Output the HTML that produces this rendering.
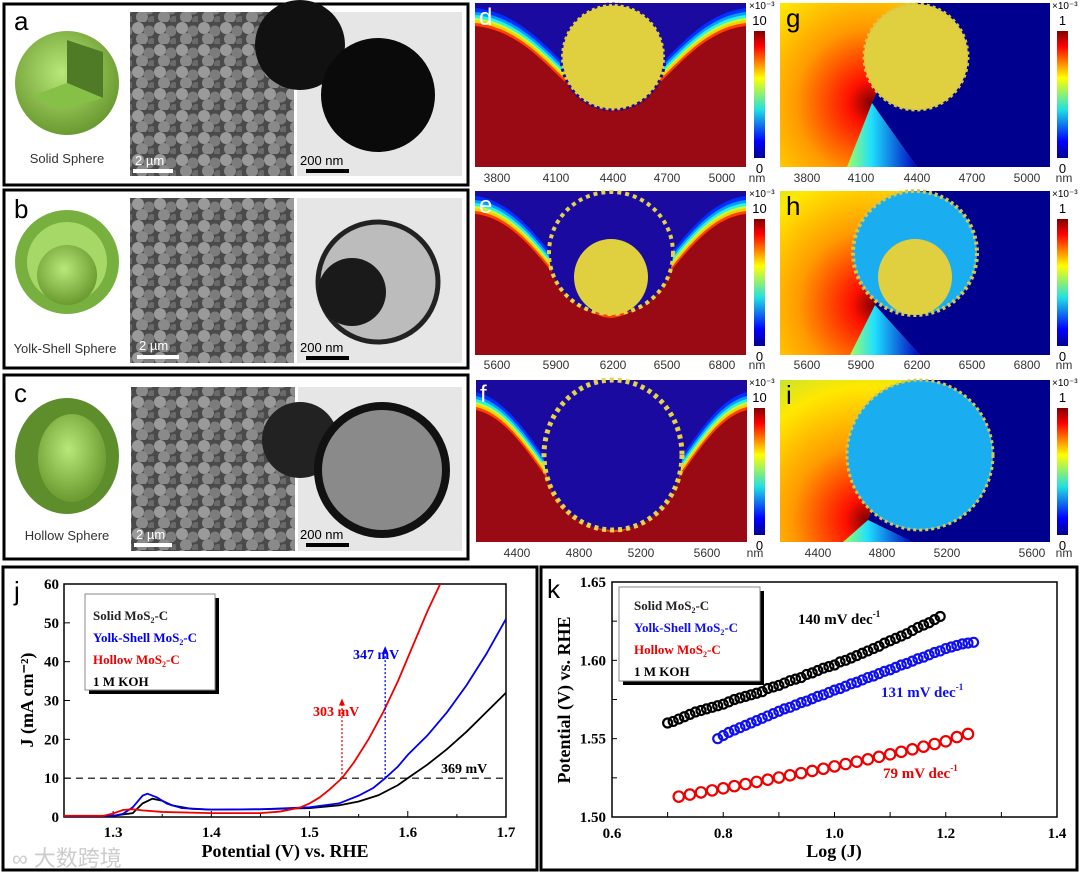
<!DOCTYPE html>
<html><head><meta charset="utf-8">
<style>
html,body{margin:0;padding:0;background:#fff;}
svg text{font-family:"Liberation Sans","Noto Sans CJK SC",sans-serif;}
.ser{font-family:"Liberation Serif","Noto Serif CJK SC",serif;font-weight:bold;}
</style></head>
<body>
<svg id="fig" width="1080" height="874" viewBox="0 0 1080 874" xmlns="http://www.w3.org/2000/svg">
<defs>
<linearGradient id="jet" x1="0" y1="0" x2="0" y2="1">
<stop offset="0" stop-color="#800000"/><stop offset="0.12" stop-color="#ff0000"/><stop offset="0.37" stop-color="#ffff00"/><stop offset="0.62" stop-color="#20e0e0"/><stop offset="0.87" stop-color="#0000ff"/><stop offset="1" stop-color="#00008f"/>
</linearGradient>
<radialGradient id="sph" cx="0.45" cy="0.4" r="0.6"><stop offset="0" stop-color="#b8e878"/><stop offset="1" stop-color="#6a9a30"/></radialGradient>
<pattern id="sem" width="22" height="22" patternUnits="userSpaceOnUse">
<rect width="22" height="22" fill="#4a4a4a"/>
<circle cx="6" cy="6" r="6" fill="#9a9a9a"/><circle cx="17" cy="9" r="5.5" fill="#7c7c7c"/><circle cx="10" cy="17" r="6" fill="#8a8a8a"/><circle cx="20" cy="20" r="4" fill="#6a6a6a"/>
</pattern>
</defs>

<g>
<rect x="4" y="4" width="464" height="181" fill="#fff" stroke="#000" stroke-width="3"/>
<text x="14" y="30" font-size="26">a</text>
<circle cx="67" cy="83" r="52" fill="url(#sph)"/>
<path d="M67,83 L67,40 L103,52 L103,98 Z" fill="#4f7a26"/><path d="M67,83 L103,98 L60,110 L32,96 Z" fill="#86c046"/>
<text x="67" y="163" font-size="13" fill="#333" text-anchor="middle">Solid Sphere</text>
<rect x="130" y="12" width="164" height="164" fill="url(#sem)"/>
<rect x="133" y="169" width="40" height="4" fill="#fff"/><text x="135" y="165" font-size="13" fill="#fff">2 µm</text>
<rect x="297" y="12" width="165" height="164" fill="#e6e6e6"/>
<circle cx="300" cy="45" r="45" fill="#111"/><circle cx="378" cy="95" r="57" fill="#0a0a0a"/>
<rect x="306" y="169" width="43" height="4" fill="#000"/><text x="300" y="165" font-size="13" fill="#000">200 nm</text>
</g>
<g>
<rect x="4" y="190" width="464" height="178" fill="#fff" stroke="#000" stroke-width="3"/>
<text x="14" y="218" font-size="26">b</text>
<circle cx="67" cy="262" r="52" fill="#78b040"/><circle cx="67" cy="262" r="40" fill="#a6d868"/><circle cx="67" cy="275" r="30" fill="url(#sph)"/>
<text x="65" y="353" font-size="13" fill="#333" text-anchor="middle">Yolk-Shell Sphere</text>
<rect x="130" y="198" width="164" height="165" fill="url(#sem)"/>
<rect x="137" y="355" width="42" height="4" fill="#fff"/><text x="139" y="350" font-size="13" fill="#fff">2 µm</text>
<rect x="297" y="198" width="165" height="165" fill="#e6e6e6"/>
<circle cx="378" cy="282" r="60" fill="#bcbcbc" stroke="#222" stroke-width="5"/><circle cx="352" cy="292" r="34" fill="#1a1a1a"/>
<rect x="306" y="356" width="43" height="4" fill="#000"/><text x="300" y="352" font-size="13" fill="#000">200 nm</text>
</g>
<g>
<rect x="4" y="375" width="464" height="184" fill="#fff" stroke="#000" stroke-width="3"/>
<text x="14" y="402" font-size="26">c</text>
<ellipse cx="67" cy="456" rx="52" ry="58" fill="#5e8e2c"/><ellipse cx="72" cy="458" rx="34" ry="44" fill="url(#sph)"/>
<text x="67" y="540" font-size="13" fill="#333" text-anchor="middle">Hollow Sphere</text>
<rect x="131" y="387" width="164" height="164" fill="url(#sem)"/>
<rect x="134" y="543" width="38" height="4" fill="#fff"/><text x="136" y="539" font-size="13" fill="#fff">2 µm</text>
<rect x="298" y="387" width="164" height="164" fill="#e6e6e6"/>
<circle cx="300" cy="440" r="38" fill="#222"/><circle cx="382" cy="470" r="64" fill="#8a8a8a" stroke="#111" stroke-width="8"/>
<rect x="306" y="543" width="43" height="4" fill="#000"/><text x="300" y="539" font-size="13" fill="#000">200 nm</text>
</g>

<g id="heat"></g>

<g id="chartJ">
<rect x="3" y="567" width="534" height="303" fill="#fff" stroke="#000" stroke-width="3"/>
</g>
<g id="chartK">
<rect x="541" y="567" width="536" height="303" fill="#fff" stroke="#000" stroke-width="3"/>
</g>
<text x="12" y="866" font-size="22" fill="#ccc">∞ 大数跨境</text>
</svg>

<script>
// ---------- LSV data (panel j) ----------
const lsvV_hollow = [1.25,1.29,1.30,1.31,1.32,1.33,1.35,1.40,1.45,1.47,1.49,1.50,1.51,1.52,1.533,1.545,1.56,1.575,1.59,1.60,1.61,1.62,1.633];
const lsvJ_hollow = [0.3,0.3,0.9,1.8,2.0,1.7,1.3,1.0,1.0,1.4,2.4,3.5,5.0,7.0,10,14,20,27,35,41,47,53,60];
const lsvV_yolk = [1.25,1.30,1.31,1.32,1.33,1.335,1.345,1.355,1.37,1.40,1.45,1.50,1.53,1.55,1.565,1.577,1.59,1.60,1.62,1.64,1.66,1.68,1.70];
const lsvJ_yolk = [0.2,0.3,0.8,2.5,5.5,6.0,5.0,3.4,2.3,1.9,2.0,2.5,3.5,5.5,7.5,10,13,16,21,27,34,42,51];
const lsvV_solid = [1.25,1.30,1.32,1.33,1.34,1.35,1.36,1.38,1.40,1.45,1.50,1.53,1.55,1.57,1.59,1.60,1.62,1.64,1.66,1.68,1.70];
const lsvJ_solid = [0.2,0.3,1.0,3.5,4.7,4.2,3.0,2.1,1.9,2.0,2.3,3.0,4.0,5.6,8.2,10,13.5,17.5,22,27,32];
const lsvXTicks = [1.3,1.4,1.5,1.6,1.7];
const lsvYTicks = [0,10,20,30,40,50,60];

// ---------- Tafel data (panel k) ----------
const tafelX_solid = [0.70,0.71,0.72,0.73,0.74,0.75,0.76,0.77,0.78,0.79,0.80,0.81,0.82,0.83,0.84,0.85,0.86,0.87,0.88,0.89,0.90,0.91,0.92,0.93,0.94,0.95,0.96,0.97,0.98,0.99,1.00,1.01,1.02,1.03,1.04,1.05,1.06,1.07,1.08,1.09,1.10,1.11,1.12,1.13,1.14,1.15,1.16,1.17,1.18,1.19];
const tafelY_solid = [1.560,1.561,1.5625,1.564,1.5655,1.567,1.568,1.569,1.570,1.571,1.572,1.5735,1.575,1.576,1.577,1.578,1.579,1.580,1.582,1.583,1.584,1.5855,1.587,1.588,1.589,1.591,1.592,1.5935,1.595,1.596,1.597,1.599,1.600,1.6015,1.603,1.6045,1.606,1.6075,1.609,1.611,1.6125,1.614,1.6155,1.617,1.619,1.621,1.6225,1.624,1.626,1.628];
const tafelX_yolk = [0.79,0.80,0.81,0.82,0.83,0.84,0.85,0.86,0.87,0.88,0.89,0.90,0.91,0.92,0.93,0.94,0.95,0.96,0.97,0.98,0.99,1.00,1.01,1.02,1.03,1.04,1.05,1.06,1.07,1.08,1.09,1.10,1.11,1.12,1.13,1.14,1.15,1.16,1.17,1.18,1.19,1.20,1.21,1.22,1.23,1.24,1.25];
const tafelY_yolk = [1.550,1.552,1.554,1.5555,1.557,1.5585,1.560,1.5615,1.563,1.5645,1.566,1.5675,1.569,1.570,1.5715,1.573,1.574,1.5755,1.577,1.578,1.5795,1.581,1.582,1.5835,1.585,1.586,1.5875,1.589,1.590,1.5915,1.593,1.594,1.5955,1.597,1.598,1.5995,1.601,1.602,1.6035,1.605,1.606,1.6075,1.6085,1.6095,1.6105,1.611,1.6115];
const tafelX_hollow = [0.72,0.74,0.76,0.78,0.80,0.82,0.84,0.86,0.88,0.90,0.92,0.94,0.96,0.98,1.00,1.02,1.04,1.06,1.08,1.10,1.12,1.14,1.16,1.18,1.20,1.22,1.24];
const tafelY_hollow = [1.513,1.5143,1.5157,1.517,1.5183,1.5197,1.521,1.5224,1.5238,1.5252,1.5266,1.528,1.5294,1.5308,1.5323,1.5338,1.5353,1.5368,1.5384,1.540,1.5416,1.5432,1.5449,1.5466,1.5483,1.551,1.553];
const tafelXTicks = [0.6,0.8,1.0,1.2,1.4];
const tafelYTicks = [1.50,1.55,1.60,1.65];

const NS = "http://www.w3.org/2000/svg";
function mk(tag, attrs, parent){const e=document.createElementNS(NS,tag);for(const k in attrs)e.setAttribute(k,attrs[k]);parent.appendChild(e);return e;}
function txt(s, attrs, parent){const e=mk('text',attrs,parent);e.textContent=s;return e;}

// ---------- heat panels ----------
const heat = document.getElementById('heat');
function colorbar(x,y,top){
  const g = mk('g',{},heat);
  
  
  mk('rect',{x:x,y:y+28,width:11,height:127,fill:'url(#jet)'},g);
  txt('×10⁻³',{x:x-5,y:y+6,'font-size':10},g);
  txt(top,{x:x+5.5,y:y+22,'font-size':13,'text-anchor':'middle'},g);
  txt('0',{x:x+5.5,y:y+170,'font-size':13,'text-anchor':'middle'},g);
}
function ticks(xs, labels, y, nmX){
  const g = mk('g',{},heat);
  
  
  xs.forEach((x,i)=>txt(labels[i],{x:x,y:y,'font-size':12,'text-anchor':'middle',fill:'#333'},g));
  txt('nm',{x:nmX,y:y,'font-size':12,'text-anchor':'middle',fill:'#333'},g);
}
function flowPanel(name,x,y,w,h,curve,letter,cx,cy,rx,ry,core,hollow){
  const g = mk('g',{},heat);
  
  
  mk('rect',{x:x,y:y,width:w,height:h,fill:'#1a0aa0'},g);
  const layers=[[-18,'#0030ff'],[-14,'#00a0ff'],[-11,'#30f0e0'],[-8,'#c0ff40'],[-6,'#ffd000'],[-3,'#ff4000'],[0,'#9a0a14']];
  layers.forEach(l=>mk('path',{d:curve+` L${x+w},${y+h} L${x},${y+h} Z`,fill:l[1],transform:`translate(0,${l[0]})`},g));
  if(core||hollow){
    mk('ellipse',{cx:cx,cy:cy,rx:rx,ry:ry,fill:'#1a0aa0'},g);
    mk('ellipse',{cx:cx,cy:cy,rx:rx,ry:ry,fill:'none',stroke:'#e4d24a','stroke-width':hollow?5:4,'stroke-dasharray':'4 4'},g);
    if(core) mk('ellipse',{cx:core[0],cy:core[1],rx:core[2],ry:core[3],fill:'#e0d040'},g);
  } else {
    mk('ellipse',{cx:cx,cy:cy,rx:rx,ry:ry,fill:'#e0d040',stroke:'#1a0aa0','stroke-width':3,'stroke-dasharray':'3 3'},g);
  }
  txt(letter,{x:x+4,y:y+22,'font-size':24,fill:'#fff'},g);
}
function potPanel(name,x,y,w,h,px,py,letter,cx,cy,rx,ry,shellFill,core){
  const g = mk('g',{},heat);
  
  
  const id='rg'+letter;
  const d=mk('defs',{},g);
  const rg=mk('radialGradient',{id:id,gradientUnits:'userSpaceOnUse',cx:px,cy:py,r:190},d);
  [[0,'#7a0000'],[0.12,'#ff1000'],[0.4,'#ff9a00'],[0.7,'#ffe800'],[1,'#a0e050']].forEach(s=>mk('stop',{offset:s[0],'stop-color':s[1]},rg));
  const lg=mk('linearGradient',{id:id+'b',x1:0,y1:0,x2:1,y2:0},d);
  [[0,'#a0ff60'],[0.35,'#20e0ff'],[1,'#0000c0']].forEach(s=>mk('stop',{offset:s[0],'stop-color':s[1]},lg));
  mk('rect',{x:x,y:y,width:w,height:h,fill:`url(#${id})`},g);
  mk('polygon',{points:`${cx},${y} ${x+w},${y} ${x+w},${y+h} ${px+45},${y+h} ${px},${py}`,fill:'#00008f'},g);
  mk('polygon',{points:`${px},${py} ${px+45},${y+h} ${px-25},${y+h}`,fill:`url(#${id}b)`},g);
  mk('ellipse',{cx:cx,cy:cy,rx:rx,ry:ry,fill:shellFill,stroke:'#d8c848','stroke-width':core?4:3,'stroke-dasharray':'3 3'},g);
  if(core) mk('ellipse',{cx:core[0],cy:core[1],rx:core[2],ry:core[3],fill:'#e0d040'},g);
  txt(letter,{x:x+6,y:y+24,'font-size':26,fill:'#000'},g);
}
flowPanel('flow-panel-d',475,3,271,164,'M475,26 C540,32 570,108 613,111 C656,108 686,32 746,26','d',613,57,52,53,null,false);
flowPanel('flow-panel-e',475,191,271,164,'M475,214 C535,220 565,316 611,318 C657,316 687,220 746,214','e',611,253,62,61,[611,277,37,38],false);
flowPanel('flow-panel-f',476,380,271,162,'M476,410 C530,422 560,532 613,532 C666,532 696,422 747,410','f',613,455,69,75,null,true);
potPanel('potential-panel-g',780,3,270,164,872,103,'g',916,57,52,53,'#e0d040',null);
potPanel('potential-panel-h',780,191,270,164,875,305,'h',915,253,62,62,'#1aaef0',[915,277,37,38]);
potPanel('potential-panel-i',780,380,270,162,868,520,'i',920,455,73,75,'#1aaef0',null);
colorbar(754,3,'10');colorbar(754,191,'10');colorbar(754,380,'10');
colorbar(1057,3,'1');colorbar(1057,191,'1');colorbar(1057,380,'1');
ticks([497,556,613,667,722],['3800','4100','4400','4700','5000'],182,757);
ticks([807,861,917,972,1027],['3800','4100','4400','4700','5000'],182,1064);
ticks([497,556,613,667,722],['5600','5900','6200','6500','6800'],369,757);
ticks([807,861,917,972,1027],['5600','5900','6200','6500','6800'],369,1064);
ticks([517,579,641,707],['4400','4800','5200','5600'],557,755);
ticks([818,882,947,1032],['4400','4800','5200','5600'],557,1064);

// ---------- chart j ----------
(function(){
  const g=document.getElementById('chartJ');
  const X0=64,X1=506,Y0=817,Y1=584;
  const xs=v=>X0+(v-1.25)/(1.70-1.25)*(X1-X0);
  const ys=v=>Y0-(v-0)/(60-0)*(Y0-Y1);
  mk('rect',{x:X0,y:Y1,width:X1-X0,height:Y0-Y1,fill:'none',stroke:'#000','stroke-width':1.5},g);
  for(let v=1.25;v<=1.7001;v+=0.05){const x=xs(v);mk('line',{x1:x,y1:Y0,x2:x,y2:Y0-(Math.abs(v*10-Math.round(v*10))<0.01?6:3),stroke:'#000'},g);}
  lsvXTicks.forEach(v=>txt(v.toFixed(1),{x:xs(v),y:Y0+20,'font-size':15,'text-anchor':'middle',class:'ser'},g));
  lsvYTicks.forEach(v=>{mk('line',{x1:X0,y1:ys(v),x2:X0+6,y2:ys(v),stroke:'#000'},g);txt(String(v),{x:X0-5,y:ys(v)+5,'font-size':15,'text-anchor':'end',class:'ser'},g);});
  const dl=mk('line',{x1:X0,y1:ys(10),x2:X1,y2:ys(10),stroke:'#000','stroke-dasharray':'7 5','stroke-width':1.2},g);
  
  
  const cp=mk('clipPath',{id:'clipJ'},g);mk('rect',{x:X0,y:Y1,width:X1-X0,height:Y0-Y1},cp);
  [[lsvV_solid,lsvJ_solid,'#000','series-solid'],[lsvV_yolk,lsvJ_yolk,'#0000ee','series-yolk-shell'],[lsvV_hollow,lsvJ_hollow,'#ee0000','series-hollow']].forEach(s=>{
    const p=mk('polyline',{points:s[0].map((v,i)=>xs(v)+','+ys(s[1][i])).join(' '),fill:'none',stroke:s[2],'stroke-width':1.8,'clip-path':'url(#clipJ)'},g);
    
    
  });
  const ar=[[1.533,30.5,'#ee0000'],[1.577,44,'#0000ee']];
  ar.forEach(a=>{const x=xs(a[0]);mk('line',{x1:x,y1:ys(10),x2:x,y2:ys(a[1])+6,stroke:a[2],'stroke-dasharray':'2 2','stroke-width':1.3},g);mk('polygon',{points:`${x-3},${ys(a[1])+7} ${x+3},${ys(a[1])+7} ${x},${ys(a[1])}`,fill:a[2]},g);});
  txt('303 mV',{x:313,y:716,'font-size':14,fill:'#ee0000',class:'ser'},g);
  txt('347 mV',{x:353,y:659,'font-size':14,fill:'#0000ee',class:'ser'},g);
  txt('369 mV',{x:441,y:773,'font-size':14,fill:'#000',class:'ser'},g);
  const lg=mk('g',{},g);
  
  
  mk('rect',{x:89,y:598,width:130,height:96,fill:'#000'},lg);
  mk('rect',{x:85,y:594,width:130,height:96,fill:'#fff',stroke:'#888'},lg);
  const ent=[['Solid MoS','-C','#222'],['Yolk-Shell MoS','-C','#0000ee'],['Hollow MoS','-C','#ee0000']];
  ent.forEach((e,i)=>{const t=txt(e[0],{x:93,y:620+i*22,'font-size':13,fill:e[2],class:'ser'},lg);const s=mk('tspan',{'font-size':8,dy:3},t);s.textContent='2';const r=mk('tspan',{dy:-3},t);r.textContent=e[1];});
  txt('1 M KOH',{x:93,y:686,'font-size':13,class:'ser'},lg);
  txt('j',{x:14,y:600,'font-size':26},g);
  const xt=txt('Potential (V) vs. RHE',{x:285,y:857,'font-size':18,'text-anchor':'middle',class:'ser'},g);
  
  
  const yt=txt('',{x:0,y:0,'font-size':18,'text-anchor':'middle',class:'ser',transform:'translate(33,700) rotate(-90)'},g);
  yt.textContent='J (mA cm⁻²)';
  
  
})();

// ---------- chart k ----------
(function(){
  const g=document.getElementById('chartK');
  const X0=612,X1=1057,Y0=817,Y1=582;
  const xs=v=>X0+(v-0.6)/(1.4-0.6)*(X1-X0);
  const ys=v=>Y0-(v-1.50)/(1.65-1.50)*(Y0-Y1);
  mk('rect',{x:X0,y:Y1,width:X1-X0,height:Y0-Y1,fill:'none',stroke:'#000','stroke-width':1.5},g);
  for(let v=0.6;v<=1.4001;v+=0.1){const x=xs(v);mk('line',{x1:x,y1:Y0,x2:x,y2:Y0-5,stroke:'#000'},g);}
  for(let v=1.50;v<=1.6501;v+=0.025){const y=ys(v);mk('line',{x1:X0,y1:y,x2:X0+5,y2:y,stroke:'#000'},g);}
  tafelXTicks.forEach(v=>txt(v.toFixed(1),{x:xs(v),y:Y0+21,'font-size':15,'text-anchor':'middle',class:'ser'},g));
  tafelYTicks.forEach(v=>txt(v.toFixed(2),{x:X0-6,y:ys(v)+5,'font-size':15,'text-anchor':'end',class:'ser'},g));
  [[tafelX_solid,tafelY_solid,'#000','series-solid',4.5],[tafelX_yolk,tafelY_yolk,'#1010ee','series-yolk-shell',4.5],[tafelX_hollow,tafelY_hollow,'#ee0000','series-hollow',5.2]].forEach(s=>{
    const sg=mk('g',{},g);
    
    
    s[0].forEach((v,i)=>{const c=mk('circle',{cx:xs(v),cy:ys(s[1][i]),r:s[4],fill:'none',stroke:s[2],'stroke-width':2.2},sg);
      
      });
  });
  const ann=[['140 mV dec',798,624,'#000'],['131 mV dec',881,697,'#1010ee'],['79 mV dec',883,778,'#ee0000']];
  ann.forEach(a=>{const t=txt(a[0],{x:a[1],y:a[2],'font-size':15,fill:a[3],class:'ser'},g);const s=mk('tspan',{'font-size':9,dy:-7},t);s.textContent='-1';});
  const lg=mk('g',{},g);
  
  
  mk('rect',{x:623,y:591,width:141,height:94,fill:'#000'},lg);
  mk('rect',{x:619,y:587,width:141,height:94,fill:'#fff',stroke:'#888'},lg);
  const ent=[['Solid MoS','-C','#222'],['Yolk-Shell MoS','-C','#1010ee'],['Hollow MoS','-C','#ee0000']];
  ent.forEach((e,i)=>{const t=txt(e[0],{x:634,y:610+i*22,'font-size':13,fill:e[2],class:'ser'},lg);const s=mk('tspan',{'font-size':8,dy:3},t);s.textContent='2';const r=mk('tspan',{dy:-3},t);r.textContent=e[1];});
  txt('1 M KOH',{x:634,y:676,'font-size':13,class:'ser'},lg);
  txt('k',{x:547,y:598,'font-size':26},g);
  const xt=txt('Log (J)',{x:834,y:857,'font-size':18,'text-anchor':'middle',class:'ser'},g);
  
  
  const yt=txt('Potential (V) vs. RHE',{x:0,y:0,'font-size':18,'text-anchor':'middle',class:'ser',transform:'translate(570,700) rotate(-90)'},g);
  
  
})();
</script>
</body></html>
